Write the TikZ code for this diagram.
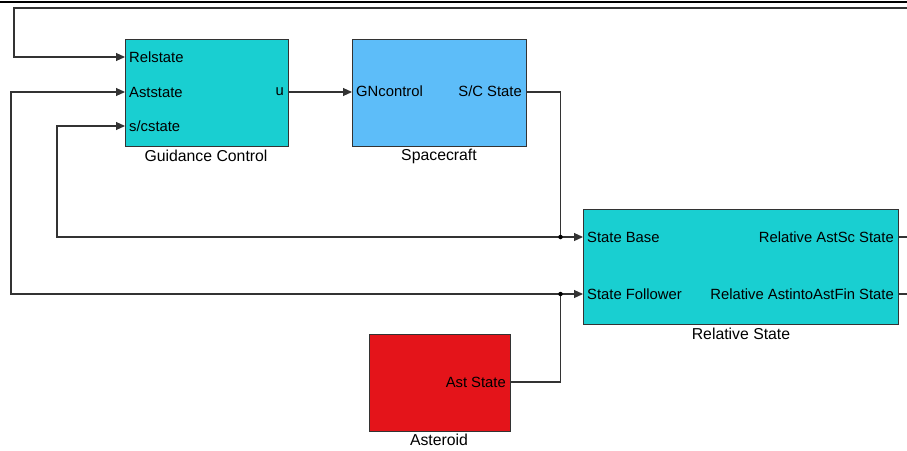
\documentclass[tikz,border=0pt]{standalone}
\usepackage{fontspec}
\setmainfont{Liberation Sans}
\usetikzlibrary{arrows.meta}
\definecolor{blkcyan}{HTML}{19CFD1}
\definecolor{blkblue}{HTML}{5DBDF9}
\definecolor{blkred}{HTML}{E4141A}
\definecolor{wire}{HTML}{333333}
\begin{document}
\begin{tikzpicture}[x=1pt,y=-1pt,
  every node/.style={font=\fontsize{14.8}{17}\selectfont, inner sep=0pt},
  block/.style={draw=wire, line width=0.9pt, rectangle, anchor=center},
  caption/.style={anchor=center, font=\fontsize{15.8}{18}\selectfont},
  portin/.style={anchor=west},
  portout/.style={anchor=east},
  signal/.style={draw=wire, line width=1.1pt},
  feed/.style={signal, -{Triangle[length=9pt,width=8pt]}},
  junction/.style={circle, fill=black, minimum size=4.5pt, inner sep=0pt}]
\useasboundingbox (0,0) rectangle (907,450);

% frame line along the top
\draw[black, line width=1.4pt] (0,2) -- (907,2);

% blocks
\node[block, fill=blkcyan, minimum width=163pt, minimum height=107pt] (gc) at (206.5,92.5) {};
\node[block, fill=blkblue, minimum width=174pt, minimum height=107pt] (sc) at (439,92.5) {};
\node[block, fill=blkcyan, minimum width=315pt, minimum height=115pt] (rs) at (740.5,266.5) {};
\node[block, fill=blkred, minimum width=141pt, minimum height=97pt] (ast) at (439.5,382.5) {};

% captions
\node[caption] (gccap) at (206,156) {Guidance Control};
\node[caption] (sccap) at (439,156) {Spacecraft};
\node[caption] (rscap) at (741,334) {Relative State};
\node[caption] (astcap) at (439,440) {Asteroid};

% port labels
\node[portin] (lRel) at (129,57) {Relstate};
\node[portin] (lAst) at (129,92) {Aststate};
\node[portin] (lSc) at (129,126) {s/cstate};
\node[portout] (lU) at (284,92) {u};
\node[portin] (lGN) at (356,91) {GNcontrol};
\node[portout] (lSCs) at (522,91) {S/C State};
\node[portin] (lBase) at (587,237) {State Base};
\node[portin] (lFol) at (587,294) {State Follower};
\node[portout] (lO1) at (894,237) {Relative AstSc State};
\node[portout] (lO2) at (894,294) {Relative AstintoAstFin State};
\node[portout] (lAstS) at (506,382) {Ast State};

% port points on the block edges
\coordinate (gcRel) at (125,57);
\coordinate (gcAst) at (125,92);
\coordinate (gcSc) at (125,126);
\coordinate (gcU) at (288,92);
\coordinate (scIn) at (352,92);
\coordinate (scOut) at (526,92);
\coordinate (rsBase) at (583,237);
\coordinate (rsFol) at (583,294);
\coordinate (rsO1) at (898,237);
\coordinate (rsO2) at (898,294);
\coordinate (astOut) at (510,382);

% free ends at the right border
\coordinate (edge1) at (907,237);
\coordinate (edge2) at (907,294);
\coordinate (edgeTop) at (907,8);

% branch points
\coordinate (b1) at (560.5,237);
\coordinate (b2) at (560.5,294);

% signals
\draw[feed] (gcU) -- (scIn);
\draw[signal] (scOut) -| (b1);
\draw[feed] (b1) -- (rsBase);
\draw[feed] (b1) -- (57,237) |- (gcSc);
\draw[signal] (astOut) -| (b2);
\draw[feed] (b2) -- (rsFol);
\draw[feed] (b2) -- (11,294) |- (gcAst);
\draw[signal] (rsO1) -- (edge1);
\draw[signal] (rsO2) -- (edge2);
\draw[feed] (edgeTop) -- (14,8) |- (gcRel);

% branch dots
\node[junction] (j1) at (b1) {};
\node[junction] (j2) at (b2) {};
\end{tikzpicture}
\end{document}
